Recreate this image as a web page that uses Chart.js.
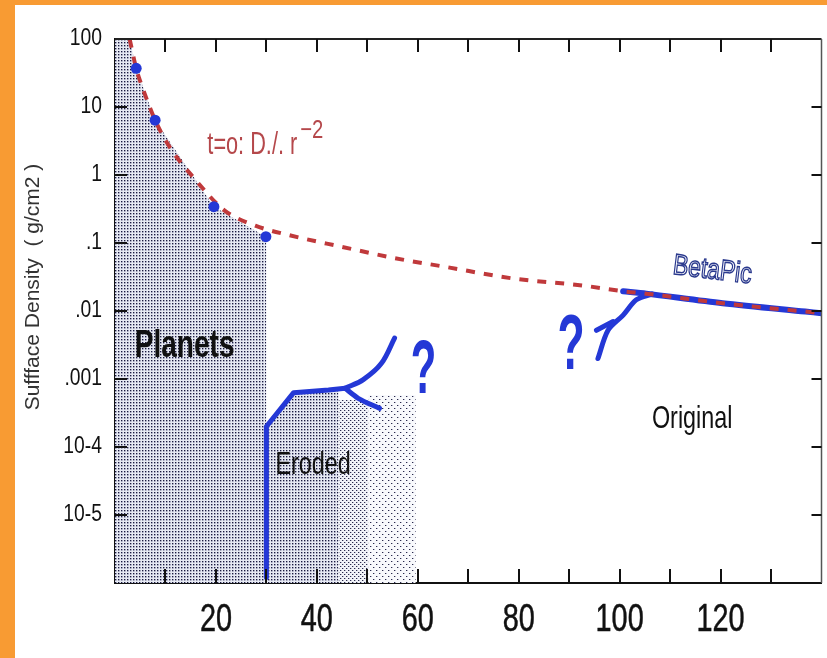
<!DOCTYPE html>
<html>
<head>
<meta charset="utf-8">
<script src="https://cdn.jsdelivr.net/npm/chart.js@4.4.0/dist/chart.umd.min.js"></script>
<style>
  html, body { margin: 0; padding: 0; width: 827px; height: 658px; overflow: hidden; background: #F89B33; }
  #wrap { position: absolute; left: 15px; top: 5px; width: 812px; height: 653px; background: #ffffff; }
  canvas { display: block; }
</style>
</head>
<body>
<div id="wrap"><canvas id="c" width="812" height="653"></canvas></div>
<script>
// Initial (t = 0) surface density profile, radius in AU
const initialRadius  = [2.9, 4.2, 5.5, 7.95, 10.8, 16, 21.6, 27.8, 34.4, 44.9, 55.4, 65.9, 79, 92.1, 100.7, 105.3, 120.4, 136.8, 140];
const initialDensity = [100, 37, 18.8, 6.4, 2.6, 0.84, 0.305, 0.18, 0.131, 0.088, 0.06, 0.044, 0.030, 0.024, 0.0195, 0.018, 0.013, 0.0098, 0.0093];

// Giant planets
const planetRadius  = [4.2, 7.95, 19.6, 29.9];
const planetDensity = [37, 6.4, 0.342, 0.124];

// Shaded "Planets" zone (top edge through the planets)
const planetZoneRadius  = [0, 2.9, 4.2, 7.95, 19.6, 29.9, 30];
const planetZoneDensity = [100, 100, 37, 6.4, 0.342, 0.124, 0.124];

// Shaded eroded zones
const erodedZoneRadius  = [30, 35.4, 42.3, 44.3];
const erodedZoneDensity = [2e-4, 6.3e-4, 6.9e-4, 7.1e-4];
const outerZoneRadius   = [44.3, 50.2];
const outerZoneDensity  = [4.9e-4, 4.9e-4];
const edgeZoneRadius    = [50.2, 59.6];
const edgeZoneDensity   = [5.8e-4, 5.8e-4];

// Eroded profile and its two possible continuations
const erodedRadius  = [30, 30, 35.4, 42.3, 45.6];
const erodedDensity = [1.2e-6, 2e-4, 6.3e-4, 6.9e-4, 7.3e-4];
const upperRadius   = [45.6, 49.2, 52.8, 55.4];
const upperDensity  = [7.3e-4, 9.8e-4, 1.7e-3, 4e-3];
const branchRadius  = [45.6, 48.2, 52.4];
const branchDensity = [7.3e-4, 5.2e-4, 3.7e-4];

// Beta Pictoris disk
const betaRadius      = [100.7, 105.3, 120.4, 136.8, 140];
const betaDensity     = [0.0195, 0.018, 0.013, 0.0098, 0.0093];
const betaRiseRadius  = [95.7, 97.7, 100.7, 103.3, 106.5];
const betaRiseDensity = [0.002, 0.0052, 0.0087, 0.0146, 0.0178];
const betaHookRadius  = [95.4, 98.7];
const betaHookDensity = [0.0052, 0.007];

// Axis ticks
const xTickLabels = [20, 40, 60, 80, 100, 120];
const yTickValues = [100, 10, 1, 0.1, 0.01, 0.001, 1e-4, 1e-5, 1e-6];
const yTickLabels = ['100', '10', '1', '.1', '.01', '.001', '10-4', '10-5', ''];

const zip = (xs, ys) => xs.map((x, i) => ({ x: x, y: ys[i] }));

const canvas = document.getElementById('c');
const ctx = canvas.getContext('2d');

// Tick labels use a narrow face: squeeze glyphs horizontally around their anchor
const X_FONT_SIZE = 39, Y_FONT_SIZE = 23;
const labelSqueeze = { [X_FONT_SIZE]: 0.74, [Y_FONT_SIZE]: 0.84 };
function squeezed(base) {
  return function (text, x, y, maxWidth) {
    const m = this.__squeeze ? /(\d+(?:\.\d+)?)px/.exec(this.font) : null;
    const sx = m ? labelSqueeze[Math.round(parseFloat(m[1]))] : undefined;
    if (!sx) return maxWidth === undefined ? base.call(this, text, x, y) : base.call(this, text, x, y, maxWidth);
    this.save();
    this.translate(x, y);
    this.scale(sx, 1);
    base.call(this, text, 0, 0);
    this.restore();
  };
}
ctx.fillText = squeezed(CanvasRenderingContext2D.prototype.fillText);
ctx.strokeText = squeezed(CanvasRenderingContext2D.prototype.strokeText);

function dotPattern(size, dots, bg) {
  const t = document.createElement('canvas');
  t.width = size; t.height = size;
  const g = t.getContext('2d');
  g.fillStyle = bg; g.fillRect(0, 0, size, size);
  dots.forEach(d => { g.fillStyle = d[2]; g.fillRect(d[0], d[1], 1, 1); });
  return ctx.createPattern(t, 'repeat');
}
const densePattern  = dotPattern(3, [[1, 1, '#1a1a3c'], [2, 1, '#9a9cb6'], [1, 2, '#9a9cb6'], [2, 2, '#c4c6d6']], '#e6e9f2');
const mediumPattern = dotPattern(4, [[1, 1, '#2a2a4c'], [2, 1, '#b4b6c8'], [3, 3, '#2a2a4c'], [0, 3, '#b4b6c8']], '#f1f3f8');
const sparsePattern = dotPattern(6, [[1, 1, '#2a2a4c'], [2, 1, '#b4b6c8'], [4, 4, '#2a2a4c'], [5, 4, '#b4b6c8']], '#f8f9fc');

const BLUE = '#2438d6';
const RED = '#c0393b';

const notes = [
  { text: 'Planets',  x: 3.9,   y: 3.05e-3, font: 'bold 39px "Liberation Sans"', sx: 0.72, color: '#111' },
  { text: 'Eroded',   x: 31.8,  y: 5.4e-5,  font: '32px "Liberation Sans"', sx: 0.73, color: '#111' },
  { text: 'Original', x: 106.4, y: 2.58e-4, font: '32px "Liberation Sans"', sx: 0.73, color: '#111' },
  { text: '?',        x: 58.6,  y: 1.27e-3, font: 'bold 76px "Liberation Sans"', sx: 0.55, color: BLUE },
  { text: '?',        x: 87.7,  y: 2.95e-3, font: 'bold 78px "Liberation Sans"', sx: 0.57, color: BLUE }
];

function scaledText(c, text, x, y, font, sx, color) {
  c.save();
  c.font = font;
  c.fillStyle = color;
  c.textBaseline = 'middle';
  c.textAlign = 'left';
  c.translate(x, y);
  c.scale(sx, 1);
  c.fillText(text, 0, 0);
  const w = c.measureText(text).width * sx;
  c.restore();
  return w;
}

const decorations = {
  id: 'decorations',
  beforeDraw(chart) { chart.ctx.__squeeze = true; },
  beforeDatasetsDraw(chart) { chart.ctx.__squeeze = false; },
  afterDraw(chart) {
    const c = chart.ctx, a = chart.chartArea;
    const xs = chart.scales.x, ys = chart.scales.y;
    c.__squeeze = false;

    // frame: top and right edges
    c.save();
    c.strokeStyle = '#222';
    c.lineWidth = 2;
    c.beginPath();
    c.moveTo(a.left, a.top); c.lineTo(a.right, a.top);
    c.stroke();
    c.lineWidth = 1.5;
    c.strokeStyle = '#555';
    c.beginPath();
    c.moveTo(a.right, a.top); c.lineTo(a.right, a.bottom);
    c.stroke();

    // inward tick marks
    c.strokeStyle = '#111';
    c.lineWidth = 2;
    c.beginPath();
    xs.ticks.forEach(t => {
      if (t.value <= xs.min || t.value >= xs.max) return;
      const px = Math.round(xs.getPixelForValue(t.value));
      c.moveTo(px, a.bottom); c.lineTo(px, a.bottom - 14);
      c.moveTo(px, a.top); c.lineTo(px, a.top + 13);
    });
    ys.ticks.forEach(t => {
      if (t.value >= ys.max * 0.999 || t.value <= ys.min * 1.001) return;
      const py = Math.round(ys.getPixelForValue(t.value));
      c.moveTo(a.left, py); c.lineTo(a.left + 12, py);
      c.moveTo(a.right, py); c.lineTo(a.right - 10, py);
    });
    c.stroke();
    c.restore();

    // axis title
    c.save();
    c.translate(a.left - 82, (a.top + a.bottom) / 2 - 24);
    c.rotate(-Math.PI / 2);
    c.font = '21px "Liberation Sans"';
    c.fillStyle = '#333';
    c.textAlign = 'center';
    c.textBaseline = 'middle';
    c.fillText('Suffface Density  ( g/cm2 )', 0, 0);
    c.restore();

    // annotations
    notes.forEach(n => {
      scaledText(c, n.text, xs.getPixelForValue(n.x), ys.getPixelForValue(n.y), n.font, n.sx, n.color);
    });

    // initial profile label with exponent
    const lx = xs.getPixelForValue(18.3), ly = ys.getPixelForValue(2.76);
    const w = scaledText(c, 't=o: D./. r', lx, ly, '31px "Liberation Sans"', 0.7, '#b5484b');
    scaledText(c, '\u22122', lx + w + 3, ly - 14, '26px "Liberation Sans"', 0.78, '#b5484b');

    // BetaPic (outlined, slightly tilted)
    c.save();
    c.translate(xs.getPixelForValue(110.6), ys.getPixelForValue(0.046));
    c.rotate(7 * Math.PI / 180);
    c.scale(0.79, 1);
    c.font = '29px "Liberation Sans"';
    c.textBaseline = 'middle';
    c.fillStyle = '#ffffff';
    c.strokeStyle = '#2b3a8e';
    c.lineWidth = 1.5;
    c.fillText('BetaPic', 0, 0);
    c.strokeText('BetaPic', 0, 0);
    c.restore();
  }
};

const fillSet = (data, pattern) => ({
  data: data, fill: 'start', backgroundColor: pattern, borderWidth: 0,
  pointRadius: 0, tension: 0, order: 5
});
const blueLine = (data, width, tension) => ({
  data: data, borderColor: BLUE, borderWidth: width, pointRadius: 0,
  fill: false, tension: tension, borderCapStyle: 'round', borderJoinStyle: 'round', order: 3
});

new Chart(canvas, {
  type: 'line',
  data: {
    datasets: [
      fillSet(zip(planetZoneRadius, planetZoneDensity), densePattern),
      fillSet(zip(erodedZoneRadius, erodedZoneDensity), densePattern),
      fillSet(zip(outerZoneRadius, outerZoneDensity), mediumPattern),
      fillSet(zip(edgeZoneRadius, edgeZoneDensity), sparsePattern),
      blueLine(zip(erodedRadius, erodedDensity), 5, 0),
      blueLine(zip(upperRadius, upperDensity), 5, 0.35),
      blueLine(zip(branchRadius, branchDensity), 5, 0.3),
      blueLine(zip(betaRadius, betaDensity), 6, 0.3),
      blueLine(zip(betaRiseRadius, betaRiseDensity), 5, 0.3),
      blueLine(zip(betaHookRadius, betaHookDensity), 5, 0),
      {
        data: zip(initialRadius, initialDensity),
        borderColor: RED, borderWidth: 4, borderDash: [9, 9],
        pointRadius: 0, fill: false, cubicInterpolationMode: 'monotone', order: 2
      },
      {
        data: zip(planetRadius, planetDensity),
        showLine: false, pointRadius: 5.5, pointBackgroundColor: BLUE,
        pointBorderWidth: 0, order: 1
      }
    ]
  },
  options: {
    responsive: false,
    animation: false,
    devicePixelRatio: 1,
    layout: { padding: { top: 34, right: 1, left: 0, bottom: 0 } },
    plugins: { legend: { display: false }, tooltip: { enabled: false } },
    scales: {
      x: {
        type: 'linear', min: 0, max: 140,
        grid: { drawOnChartArea: false, drawTicks: false },
        border: { display: true, color: '#111', width: 2 },
        ticks: {
          stepSize: 10, autoSkip: false, maxRotation: 0, padding: 14,
          color: '#111', textStrokeColor: '#111', textStrokeWidth: 0.5,
          font: { family: '"Liberation Sans", sans-serif', size: X_FONT_SIZE },
          callback: v => xTickLabels.includes(v) ? String(v) : ''
        },
        afterFit: s => { s.height = 75; s.paddingLeft = 0; s.paddingRight = 0; }
      },
      y: {
        type: 'logarithmic', min: 1e-6, max: 100,
        afterBuildTicks: s => { s.ticks = yTickValues.map(v => ({ value: v })); },
        grid: { drawOnChartArea: false, drawTicks: false },
        border: { display: true, color: '#111', width: 2 },
        ticks: {
          autoSkip: false, padding: 13, color: '#111',
          font: { family: '"Liberation Sans", sans-serif', size: Y_FONT_SIZE },
          callback: v => {
            const i = yTickValues.findIndex(t => Math.abs(Math.log10(t) - Math.log10(v)) < 1e-6);
            return i >= 0 ? yTickLabels[i] : '';
          }
        },
        afterFit: s => { s.width = 100; }
      }
    }
  },
  plugins: [decorations]
});
</script>
</body>
</html>
